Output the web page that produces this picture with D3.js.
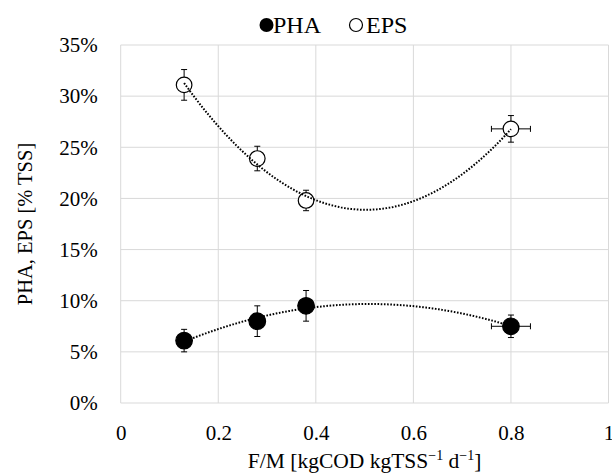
<!DOCTYPE html>
<html><head><meta charset="utf-8">
<script src="https://cdn.jsdelivr.net/npm/d3@7"></script>
<style>body{margin:0;background:#fff}svg{display:block}text{font-family:"Liberation Serif","Times New Roman",serif;fill:#000}</style>
</head><body><svg id="c" width="612" height="475"></svg>
<script>
const fm = [0.13, 0.28, 0.38, 0.80];
const fmErr = [0, 0, 0, 0.04];
const pha = [6.1, 8.0, 9.5, 7.5];
const phaErr = [1.1, 1.5, 1.5, 1.1];
const eps = [31.1, 23.9, 19.8, 26.8];
const epsErr = [1.5, 1.2, 1.0, 1.3];
const xTicks = [0, 0.2, 0.4, 0.6, 0.8, 1];
const yTicks = [0, 5, 10, 15, 20, 25, 30, 35];

const svg = d3.select("#c");
const L = 120.7, R = 608.5, T = 45, B = 403;
const x = d3.scaleLinear().domain([0, 1]).range([L, R]);
const y = d3.scaleLinear().domain([0, 35]).range([B, T]);
const fs = 21;

// gridlines
svg.append("g").selectAll("line.h").data(yTicks).join("line")
  .attr("x1", L).attr("x2", R).attr("y1", d => y(d)).attr("y2", d => y(d))
  .attr("stroke", "#d9d9d9").attr("stroke-width", 1);
svg.append("g").selectAll("line.v").data(xTicks).join("line")
  .attr("y1", T).attr("y2", B).attr("x1", d => x(d)).attr("x2", d => x(d))
  .attr("stroke", "#d9d9d9").attr("stroke-width", 1);

// axes (labels only)
const yAxis = d3.axisLeft(y).tickValues(yTicks).tickSize(0).tickPadding(23).tickFormat(d => d + "%");
const gy = svg.append("g").attr("transform", `translate(${L},0)`).call(yAxis);
gy.select(".domain").remove();
gy.selectAll("text").attr("font-size", fs).attr("font-family", "Liberation Serif");
const xAxis = d3.axisBottom(x).tickValues(xTicks).tickSize(0).tickPadding(22).tickFormat(d => d3.format("~g")(d));
const gx = svg.append("g").attr("transform", `translate(0,${B})`).call(xAxis);
gx.select(".domain").remove();
gx.selectAll("text").attr("font-size", fs).attr("font-family", "Liberation Serif");

// axis titles
svg.append("text").attr("transform", `translate(32,${(T + B) / 2}) rotate(-90)`)
  .attr("text-anchor", "middle").attr("font-size", 20.5).text("PHA, EPS [% TSS]");
const xt = svg.append("text").attr("x", (L + R) / 2).attr("y", 468).attr("text-anchor", "middle").attr("font-size", 21.5);
xt.append("tspan").text("F/M [kgCOD kgTSS");
xt.append("tspan").attr("dy", -8).attr("font-size", 14).text("\u22121");
xt.append("tspan").attr("dy", 8).text(" d");
xt.append("tspan").attr("dy", -8).attr("font-size", 14).text("\u22121");
xt.append("tspan").attr("dy", 8).text("]");

// quadratic least squares fit
function quadFit(xs, ys) {
  let S = [0,0,0,0,0], Ty = [0,0,0];
  xs.forEach((xi, i) => { for (let k = 0; k < 5; k++) S[k] += Math.pow(xi, k); for (let k = 0; k < 3; k++) Ty[k] += ys[i] * Math.pow(xi, k); });
  const A = [[S[0],S[1],S[2],Ty[0]],[S[1],S[2],S[3],Ty[1]],[S[2],S[3],S[4],Ty[2]]];
  for (let i = 0; i < 3; i++) {
    for (let j = i + 1; j < 3; j++) { const f = A[j][i] / A[i][i]; for (let k = i; k < 4; k++) A[j][k] -= f * A[i][k]; }
  }
  const c = [0,0,0];
  for (let i = 2; i >= 0; i--) { let s = A[i][3]; for (let k = i + 1; k < 3; k++) s -= A[i][k] * c[k]; c[i] = s / A[i][i]; }
  return t => c[0] + c[1] * t + c[2] * t * t;
}

function drawSeries(vals, errs, filled) {
  const g = svg.append("g");
  const cap = 3;
  fm.forEach((fx, i) => {
    const cx = x(fx), v = vals[i], e = errs[i];
    g.append("line").attr("x1", cx).attr("x2", cx).attr("y1", y(v + e)).attr("y2", y(v - e)).attr("stroke", "#000");
    [v + e, v - e].forEach(w => g.append("line").attr("x1", cx - cap).attr("x2", cx + cap).attr("y1", y(w)).attr("y2", y(w)).attr("stroke", "#000"));
    if (fmErr[i] > 0) {
      const cy = y(v);
      g.append("line").attr("x1", x(fx - fmErr[i])).attr("x2", x(fx + fmErr[i])).attr("y1", cy).attr("y2", cy).attr("stroke", "#000");
      [fx - fmErr[i], fx + fmErr[i]].forEach(w => g.append("line").attr("x1", x(w)).attr("x2", x(w)).attr("y1", cy - cap).attr("y2", cy + cap).attr("stroke", "#000"));
    }
  });
  g.selectAll("circle").data(fm).join("circle")
    .attr("cx", d => x(d)).attr("cy", (d, i) => y(vals[i])).attr("r", filled ? 8.3 : 7.8)
    .attr("fill", filled ? "#000" : "#fff").attr("stroke", "#000").attr("stroke-width", 1.2);
}
drawSeries(pha, phaErr, true);
drawSeries(eps, epsErr, false);

const line = d3.line().x(d => x(d[0])).y(d => y(d[1]));
[pha, eps].forEach(vals => {
  const f = quadFit(fm, vals);
  const pts = d3.range(0, 101).map(i => { const t = fm[0] + (fm[3] - fm[0]) * i / 100; return [t, f(t)]; });
  svg.append("path").attr("d", line(pts)).attr("fill", "none").attr("stroke", "#000")
    .attr("stroke-width", 2).attr("stroke-dasharray", "1.6,1.6");
});

// legend
const lg = svg.append("g");
lg.append("circle").attr("cx", 266.5).attr("cy", 25).attr("r", 7).attr("fill", "#000");
lg.append("text").attr("x", 273).attr("y", 33).attr("font-size", 24).text("PHA");
lg.append("circle").attr("cx", 356).attr("cy", 25).attr("r", 6.5).attr("fill", "#fff").attr("stroke", "#000").attr("stroke-width", 1.2);
lg.append("text").attr("x", 366).attr("y", 33).attr("font-size", 24).text("EPS");
</script></body></html>
